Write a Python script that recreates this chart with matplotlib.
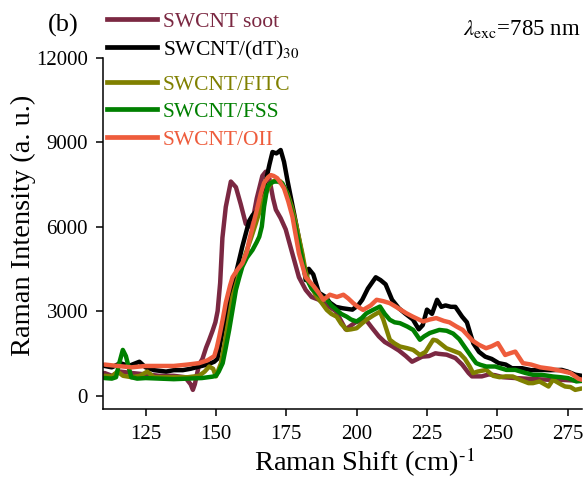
import matplotlib
matplotlib.use("Agg")
import matplotlib.pyplot as plt
from matplotlib.lines import Line2D

plt.rcParams['font.family'] = ['Liberation Serif', 'DejaVu Serif']
plt.rcParams['mathtext.fontset'] = 'stix'

# ---------------- data ----------------
soot_x = [110.4, 113, 116, 120, 125, 130, 135, 139, 141, 141.8, 142.5, 144, 145.2, 146.5, 147.5, 148.8,
          149.8, 150.6, 151.5, 152.3, 153.5, 155.3, 157.1, 158.8, 160.6, 162, 163, 164.5, 166.5, 167.7,
          169, 170.3, 171.3, 173, 174.8, 177, 179.5, 181.9, 184, 186.6, 189.5, 192.6, 196.1, 199.6,
          203.2, 205.5, 207.9, 210, 212.6, 215, 217.5, 219.7, 223.3, 225.7, 228, 229.2, 232, 235.1,
          237.5, 239.8, 241, 244.5, 247, 249.3, 252, 256.4, 260, 264, 268, 272, 276, 280]
soot_y = [800, 700, 850, 800, 750, 700, 700, 650, 400, 200, 400, 1100, 1300, 1700, 1950, 2300,
          2600, 3000, 4000, 5600, 6700, 7600, 7400, 6800, 6100, 6000, 6200, 7000, 7800, 7950,
          7700, 7000, 6600, 6300, 5900, 5100, 4200, 3750, 3500, 3400, 3200, 3000, 2350, 2600,
          2700, 2400, 2100, 1900, 1750, 1600, 1400, 1200, 1380, 1400, 1500, 1480, 1450, 1330,
          1100, 800, 680, 680, 750, 720, 650, 620, 600, 580, 560, 560, 540, 520]

dt_x = [110.4, 113, 116, 119, 122.8, 125, 128, 132.3, 135, 138.2, 141, 144.1, 147, 149.4, 150.5, 152.4,
        154, 155.9, 157.5, 159.4, 161.8, 163, 164.8, 166.3, 167.7, 169, 170.1, 171.5, 173, 174.2,
        175.4, 177.8, 180.7, 181.9, 183, 184.6, 186.6, 189, 190.5, 192.6, 195, 198.5, 200.5, 202,
        204, 206.8, 208.5, 210.3, 212.6, 215, 217.4, 220, 222.1, 223.5, 225, 226.8, 228.6, 230.1,
        231.6, 233.5, 235.1, 237.5, 239.2, 240.4, 241.5, 243.5, 245.7, 248, 250.5, 253, 255.2,
        258.8, 262, 265.9, 269, 272.9, 275, 277.7, 280]
dt_y = [1050, 1000, 1150, 1050, 1200, 1000, 900, 850, 900, 900, 950, 1030, 1100, 1200, 1300, 2300,
        3000, 3750, 4500, 5300, 6200, 6400, 6600, 7000, 7600, 8200, 8650, 8600, 8720, 8300,
        7650, 6450, 4950, 4100, 4500, 4300, 3650, 3500, 3300, 3150, 3100, 3050, 3200, 3400,
        3800, 4200, 4100, 3950, 3400, 3100, 2900, 2700, 2350, 2500, 3050, 2900, 3400, 3150,
        3200, 3150, 3150, 2800, 2600, 2200, 1850, 1550, 1380, 1300, 1150, 1100, 970,
        970, 900, 910, 900, 910, 850, 740, 700]

fitc_x = [110.4, 113, 115, 117, 120, 123, 125.6, 128, 132, 136, 140, 144, 146, 147.6, 149, 150,
          151.8, 153, 154.1, 155.9, 158.3, 160.6, 162.5, 164.2, 166, 167.7, 169, 170.1, 171.5, 173,
          174.2, 175.4, 177, 178.4, 180.7, 181.9, 183.1, 185.8, 187.5, 189.4, 191, 192.9, 194.5,
          196.5, 198, 200, 201.8, 203.5, 206, 208.3, 209.5, 211.8, 213.5, 215.4, 218, 220.1, 222.5,
          224.5, 227.2, 228.5, 231.9, 234, 236.6, 238.5, 240.2, 241.4, 243, 246.1, 248.5, 250.8,
          253, 255.5, 258, 261.1, 262.7, 265, 268.2, 269.8, 272.9, 274.1, 276, 277.7, 280]
fitc_y = [700, 680, 850, 700, 650, 700, 850, 650, 650, 650, 650, 700, 850, 1030, 950, 680,
          1150, 1800, 2450, 3510, 4340, 5050, 5600, 6120, 6700, 7180, 7450, 7600, 7650, 7600,
          7400, 7180, 6700, 6120, 5050, 4400, 4000, 3510, 3300, 3040, 2900, 2800, 2550,
          2330, 2350, 2390, 2550, 2690, 2850, 2980, 2690, 1980, 1850, 1740, 1680, 1620, 1440,
          1550, 1980, 1950, 1680, 1600, 1500, 1300, 1030, 795, 850, 910, 700, 650,
          680, 675, 560, 440, 440, 500, 320, 560, 380, 320, 300, 200, 250]

fss_x = [110.4, 113, 114.5, 115.5, 116.9, 118, 119.9, 122, 125, 130, 135, 140, 145, 148.8, 150, 151,
         152.4, 153.5, 154.7, 156, 157.1, 158.3, 159.4, 161, 163, 164.5, 165.4, 166.3, 167.1, 168.3,
         169.5, 170.7, 172, 173.6, 175, 176.6, 178, 179.5, 181.9, 184, 185.8, 187.5, 189.4, 191,
         192.9, 194.5, 196.5, 198, 200, 201.8, 203.5, 206, 208.3, 210, 211.8, 213.5, 215.4, 218,
         220.1, 222.5, 224, 226, 229.4, 232, 234.3, 236.5, 239, 240.8, 242.5, 244, 246.1, 249.3,
         253.2, 256.4, 260, 262.7, 265.8, 269.8, 272.5, 275.2, 278.1, 280]
fss_y = [620, 600, 650, 1100, 1620, 1400, 650, 600, 620, 600, 580, 600, 620, 670, 700, 850,
         1150, 1700, 2330, 3100, 3750, 4200, 4580, 4900, 5170, 5450, 5640, 6000, 6710, 7420,
         7550, 7600, 7600, 7540, 7250, 6710, 6100, 5410, 4220, 3800, 3630, 3500, 3400, 3200,
         3040, 2900, 2800, 2700, 2630, 2750, 2920, 3050, 3160, 2900, 2690, 2600, 2570, 2450,
         2330, 1980, 2100, 2220, 2330, 2300, 2200, 2000, 1640, 1380, 1150, 1090, 1030, 1030,
         910, 910, 800, 735, 735, 675, 650, 617, 500, 520]

oii_x = [110.4, 115, 120, 125, 130, 135, 140, 144, 147, 149.4, 150.3, 151.2, 152.4, 153.5, 155, 155.9,
         157.5, 159.4, 161, 161.8, 163.3, 164.8, 166, 167.1, 168.5, 169.5, 170.5, 171.8, 173, 174.2,
         175.7, 177.2, 179.5, 181.9, 184.6, 186.5, 188.2, 190.5, 193, 195.3, 197, 198.8, 200.5,
         202.3, 205, 207.1, 209.5, 211.8, 214, 217.7, 220, 223.6, 226, 228.3, 231, 233, 235.5,
         237.7, 241.2, 243.5, 246, 248, 250.2, 252.8, 254.5, 256.4, 259.1, 262, 265.3, 269, 272.5,
         276, 278.8, 280]
oii_y = [1100, 1050, 1000, 1050, 1050, 1050, 1100, 1150, 1250, 1400, 1700, 2100, 2700, 3300, 3900, 4200,
         4450, 4700, 5100, 5500, 6100, 6700, 7200, 7550, 7750, 7830, 7800, 7720, 7550, 7360,
         6900, 6350, 5050, 4200, 3900, 3650, 3400, 3580, 3500, 3580, 3450, 3280, 3150,
         3040, 3200, 3400, 3350, 3280, 3150, 2920, 2800, 2630, 2700, 2750, 2650, 2600, 2450,
         2330, 1950, 1800, 1680, 1750, 1860, 1440, 1500, 1560, 1150, 1100, 1000, 950, 880,
         800, 600, 560]

labels = ["SWCNT soot", "SWCNT/(dT)$_{30}$", "SWCNT/FITC", "SWCNT/FSS", "SWCNT/OII"]
colors = ["#7B2842", "#000000", "#808000", "#008000", "#EE5C3C"]
xticks = [125, 150, 175, 200, 225, 250, 275]
yticks = [0, 3000, 6000, 9000, 12000]

# ---------------- figure ----------------
W, H = 585, 482
fig = plt.figure(figsize=(W / 100, H / 100), dpi=100)
ax = fig.add_axes([103.4 / W, 1 - 409.3 / H, (581.7 - 103.4) / W, (409.3 - 57.7) / H])

series = [(soot_x, soot_y), (dt_x, dt_y), (fitc_x, fitc_y), (fss_x, fss_y), (oii_x, oii_y)]
for (xs, ys), c in zip(series, colors):
    ax.plot(xs, ys, color=c, lw=3.2, solid_joinstyle='round', solid_capstyle='round')

ax.set_xlim(110, 280)
ax.set_ylim(-490, 12000)
ax.set_xticks(xticks)
ax.set_yticks(yticks)
for s in ['top', 'right']:
    ax.spines[s].set_visible(False)
for s in ['left', 'bottom']:
    ax.spines[s].set_linewidth(1.1)
ax.tick_params(direction='out', length=5, width=1.1, labelsize=15, pad=6)

ax.set_xlabel(r"Raman Shift (cm)$^{\text{-1}}$", fontsize=20.5, va='top')
ax.xaxis.set_label_coords(0.546, -0.104)
ax.set_ylabel("Raman Intensity (a. u.)", fontsize=20.5)
ax.yaxis.set_label_coords(-0.141, 0.524)

# legend drawn by hand (outside the plotting area)
line_y = [19.3, 47, 82, 109, 137]
for lab, c, py in zip(labels, colors, line_y):
    fy = 1 - py / H
    fig.add_artist(Line2D([107 / W, 157 / W], [fy, fy], color=c, lw=3.4,
                          transform=fig.transFigure))
    fig.text(163 / W, 1 - (py + 8) / H, lab, color=c, fontsize=15.5, va='baseline', ha='left')

fig.text(48 / W, 1 - 32 / H, "(b)", fontsize=19, va='baseline', ha='left')
fig.text(581 / W, 1 - 35 / H, r"$\lambda_{\mathrm{exc}}$=785 nm", fontsize=16.5,
         va='baseline', ha='right')

fig.savefig("out.png", dpi=100)
